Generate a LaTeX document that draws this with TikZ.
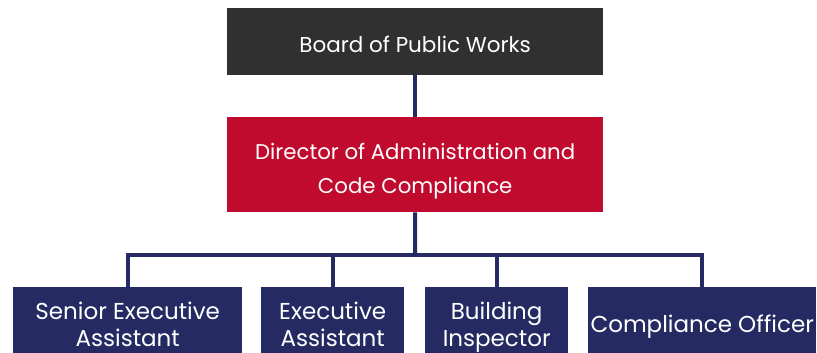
\documentclass[tikz,border=0pt]{standalone}
\usepackage{fontspec}
\setmainfont{Poppins}
\definecolor{boardgray}{HTML}{303030}
\definecolor{dirred}{HTML}{C00A2E}
\definecolor{navy}{HTML}{252B62}
\begin{document}
\begin{tikzpicture}[x=1pt,y=-1pt,
  box/.style={anchor=north west,inner sep=0pt,text=white,align=center,text depth=6pt,font=\fontsize{23}{27}\selectfont},
  conn/.style={draw=navy,line width=4pt}]
\useasboundingbox (0,0) rectangle (817,353);
\node[box,fill=boardgray,minimum width=376pt,minimum height=67pt,text height=27pt,font=\fontsize{21.5}{26}\selectfont] (board) at (227,8) {Board of Public Works};
\node[box,fill=dirred,minimum width=376pt,minimum height=95pt,text height=63pt,font=\fontsize{21.3}{34}\selectfont] (dir) at (227,117) {Director of Administration and\\Code Compliance};
\node[box,fill=navy,minimum width=229pt,minimum height=66pt,text height=58pt] (sea) at (13,287) {Senior Executive\\Assistant};
\node[box,fill=navy,minimum width=143pt,minimum height=66pt,text height=58pt] (ea) at (261,287) {Executive\\Assistant};
\node[box,fill=navy,minimum width=143pt,minimum height=66pt,text height=58pt] (bi) at (425,287) {Building\\Inspector};
\node[box,fill=navy,minimum width=228pt,minimum height=66pt,text height=30pt] (co) at (588,287) {Compliance Officer};
\coordinate (bus) at (415,255);
\draw[conn] (board.south) -- (dir.north);
\draw[conn] (dir.south) -- (bus);
\draw[conn,line cap=rect] (sea.north -| 128,0) -- (128,255) -- (702,255) -- (co.north -| 702,0);
\draw[conn] (ea.north -| 333,0) -- (333,255);
\draw[conn] (bi.north -| 497,0) -- (497,255);
\end{tikzpicture}
\end{document}
